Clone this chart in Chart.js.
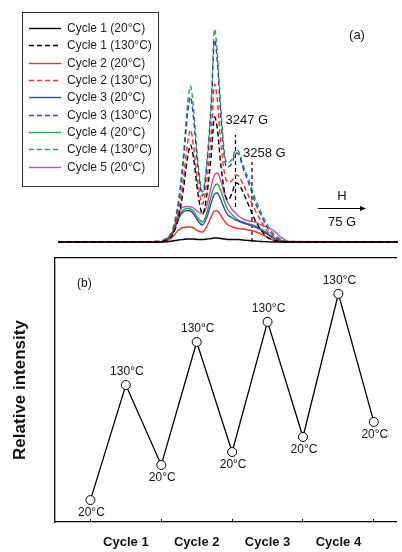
<!DOCTYPE html>
<html>
<head>
<meta charset="utf-8">
<title>ESR cycles</title>
<script src="https://cdn.jsdelivr.net/npm/chart.js@4.4.0/dist/chart.umd.min.js"></script>
<style>
  html, body { margin: 0; padding: 0; background: #fff; }
  #wrap { position: relative; width: 402px; height: 552px; }
  #specBox { position: absolute; left: 0; top: 0; width: 402px; height: 250px; }
  #trendBox { position: absolute; left: 0; top: 250px; width: 402px; height: 302px; }
</style>
</head>
<body>
<div id="wrap">
  <div id="specBox"><canvas id="specChart"></canvas></div>
  <div id="trendBox"><canvas id="trendChart"></canvas></div>
</div>
<script>
// --- panel (a): spectra, magnetic field in G, intensity in arbitrary units ---
const fieldG = [3129, 3195, 3201, 3205, 3209, 3212, 3215, 3217, 3219, 3222,
                3225, 3228, 3231, 3233, 3235, 3237, 3240, 3242, 3245, 3247,
                3249, 3252, 3256, 3260, 3264, 3268, 3272, 3277, 3283, 3355];

const cycle1At20  = [0, 0, 0.3, 1, 2, 2.5, 3, 3, 3, 2.5, 2.5, 3, 3.5, 4, 4, 3.5, 3, 2.5, 2.5, 2.5, 2.5, 2, 1.5, 1, 0.5, 0.3, 0, 0, 0, 0];
const cycle1At130 = [0, 0.3, 2, 7, 24, 50, 84, 97, 84, 48, 28, 48, 90, 125, 112, 80, 48, 42, 50, 59, 58, 50, 36, 22, 12, 5, 2, 0.5, 0, 0];
const cycle2At20  = [0, 0, 1, 5, 12, 14.5, 15, 15, 14, 11, 10, 16, 26, 31, 31, 27, 20, 17, 15, 14, 13.5, 13, 12, 10.5, 8, 5, 2, 0.5, 0, 0];
const cycle2At130 = [0, 0.5, 3, 9, 30, 60, 98, 112, 96, 58, 38, 62, 112, 158, 140, 102, 66, 60, 62, 67, 66, 58, 45, 32, 21, 11, 5, 1, 0, 0];
const cycle3At20  = [0, 0, 2, 8, 23, 30, 31.5, 31, 28, 21, 17, 25, 40, 48, 49, 43, 32, 27, 24, 22, 21, 19, 17, 15, 12, 8, 4, 1, 0, 0];
const cycle3At130 = [0, 0.5, 3.5, 11, 38, 76, 127, 145, 124, 74, 46, 78, 140, 202, 178, 130, 80, 75, 80, 89, 88, 74, 58, 40, 27, 15, 7, 2, 0, 0];
const cycle4At20  = [0, 0, 3, 10, 26, 32, 33.5, 33, 31, 24, 20, 30, 47, 56, 58, 52, 39, 32, 27, 24, 22, 20, 18, 16, 13, 9, 5, 1.5, 0, 0];
const cycle4At130 = [0, 0.5, 4, 12, 42, 82, 137, 156, 134, 79, 50, 82, 147, 213, 187, 139, 85, 79, 84, 92, 91, 77, 62, 44, 30, 18, 9, 3, 0.5, 0];
const cycle5At20  = [0, 0, 2, 10, 29, 35, 35.5, 35, 34, 30, 28, 37, 57, 67, 69, 62, 46, 39, 32, 29, 26, 23, 21, 20, 17, 15, 12, 5, 0.5, 0];

const spectrumValues = [cycle1At20, cycle1At130, cycle2At20, cycle2At130, cycle3At20,
                        cycle3At130, cycle4At20, cycle4At130, cycle5At20];
const spectrumLabels = ['Cycle 1 (20°C)', 'Cycle 1 (130°C)', 'Cycle 2 (20°C)', 'Cycle 2 (130°C)',
                        'Cycle 3 (20°C)', 'Cycle 3 (130°C)', 'Cycle 4 (20°C)', 'Cycle 4 (130°C)',
                        'Cycle 5 (20°C)'];
const spectrumColors = ['#000000', '#000000', '#ff2b2b', '#ff2b2b', '#3447b0',
                        '#3447b0', '#22a652', '#22a652', '#d845a6'];
const spectrumDashed = [false, true, false, true, false, true, false, true, false];

// field markers (dashed verticals)
const markerFields = [3247, 3258];
const markerTop = [107, 80];
const markerBottom = [35, 0];
const markerLabels = ['3247 G', '3258 G'];

// --- panel (b): relative intensity over the heating/cooling steps ---
const stepIndex = [0, 1, 2, 3, 4, 5, 6, 7, 8];
const relIntensity = [8.3, 51.9, 21.6, 68.2, 26.5, 75.8, 32.2, 86.4, 37.9];
const stepTemps = ['20°C', '130°C', '20°C', '130°C', '20°C', '130°C', '20°C', '130°C', '20°C'];
const cycleLabels = ['Cycle 1', 'Cycle 2', 'Cycle 3', 'Cycle 4'];

const FONT = '"Liberation Sans", Arial, Helvetica, sans-serif';
Chart.defaults.font.family = FONT;
Chart.defaults.color = '#111';

// spectra datasets
const specDatasets = spectrumValues.map(function(vals, i) {
    return {
        label: spectrumLabels[i],
        data: fieldG.map((g, k) => ({ x: g, y: vals[k] })),
        borderColor: spectrumColors[i],
        borderWidth: 1.4,
        borderDash: spectrumDashed[i] ? [5, 3] : [],
        pointRadius: 0,
        fill: false,
        cubicInterpolationMode: 'monotone',
        clip: false
    };
});
markerFields.forEach(function(g, i) {
    specDatasets.push({
        label: '',
        isMarker: true,
        data: [{ x: g, y: markerBottom[i] }, { x: g, y: markerTop[i] }],
        borderColor: '#000',
        borderWidth: 1.2,
        borderDash: [4, 3],
        pointRadius: 0,
        clip: false
    });
});

// legend box, marker labels, H arrow and "(a)"
const specNotes = {
    id: 'specNotes',
    afterDraw(chart) {
        const ctx = chart.ctx;
        const xs = chart.scales.x, ys = chart.scales.y;
        ctx.save();

        // legend
        ctx.strokeStyle = '#333';
        ctx.lineWidth = 1;
        ctx.strokeRect(22.5, 12.5, 136, 174);
        ctx.font = '12px ' + FONT;
        ctx.textBaseline = 'middle';
        ctx.textAlign = 'left';
        chart.data.datasets.filter(d => !d.isMarker).forEach(function(ds, i) {
            const yy = Math.round(28 + i * 17.35) + 0.5;
            ctx.beginPath();
            ctx.setLineDash(ds.borderDash);
            ctx.strokeStyle = ds.borderColor;
            ctx.lineWidth = 1.4;
            ctx.moveTo(29, yy);
            ctx.lineTo(61, yy);
            ctx.stroke();
            ctx.setLineDash([]);
            ctx.fillStyle = '#222';
            ctx.fillText(ds.label, 67, yy);
        });

        // marker labels
        ctx.font = '13px ' + FONT;
        ctx.fillStyle = '#111';
        const offsets = [[-10, -15], [-9, -9]];
        markerFields.forEach(function(g, i) {
            const px = xs.getPixelForValue(g);
            const py = ys.getPixelForValue(markerTop[i]);
            ctx.fillText(markerLabels[i], px + offsets[i][0], py + offsets[i][1]);
        });

        // field direction arrow
        const ax1 = xs.getPixelForValue(3302), ax2 = xs.getPixelForValue(3334);
        const ay = Math.round(ys.getPixelForValue(34)) + 0.5;
        ctx.strokeStyle = '#000';
        ctx.lineWidth = 1.2;
        ctx.beginPath();
        ctx.moveTo(ax1, ay);
        ctx.lineTo(ax2 - 4, ay);
        ctx.stroke();
        ctx.fillStyle = '#000';
        ctx.beginPath();
        ctx.moveTo(ax2, ay);
        ctx.lineTo(ax2 - 6, ay - 2.5);
        ctx.lineTo(ax2 - 6, ay + 2.5);
        ctx.closePath();
        ctx.fill();
        ctx.textAlign = 'center';
        ctx.fillStyle = '#111';
        ctx.fillText('H', (ax1 + ax2) / 2, ay - 12);
        ctx.fillText('75 G', (ax1 + ax2) / 2, ay + 14);

        ctx.fillText('(a)', 357, 35);
        ctx.restore();
    }
};

new Chart(document.getElementById('specChart'), {
    type: 'line',
    data: { datasets: specDatasets },
    options: {
        responsive: true,
        maintainAspectRatio: false,
        animation: false,
        layout: { padding: { left: 0, right: 0, top: 0, bottom: 8 } },
        scales: {
            x: { type: 'linear', display: false, min: 3090, max: 3358 },
            y: { display: false, min: 0, max: 242 }
        },
        plugins: { legend: { display: false }, tooltip: { enabled: false } }
    },
    plugins: [specNotes]
});

// panel (b) annotations: point temperatures and "(b)"
const trendNotes = {
    id: 'trendNotes',
    afterDraw(chart) {
        const ctx = chart.ctx;
        const area = chart.chartArea;
        ctx.save();
        ctx.font = '12px ' + FONT;
        ctx.fillStyle = '#111';
        ctx.textAlign = 'center';
        ctx.textBaseline = 'middle';
        chart.getDatasetMeta(0).data.forEach(function(pt, i) {
            const dy = i % 2 === 1 ? -13 : 13;
            ctx.fillText(stepTemps[i], pt.x + 1, pt.y + dy);
        });
        ctx.textAlign = 'left';
        ctx.fillText('(b)', area.left + 22, area.top + 26);
        ctx.restore();
    }
};

new Chart(document.getElementById('trendChart'), {
    type: 'line',
    data: {
        datasets: [{
            label: 'Relative intensity',
            data: stepIndex.map((s, i) => ({ x: s, y: relIntensity[i] })),
            borderColor: '#000',
            borderWidth: 1.3,
            pointRadius: 4.5,
            pointBackgroundColor: '#fff',
            pointBorderColor: '#000',
            pointBorderWidth: 1,
            tension: 0,
            clip: false
        }]
    },
    options: {
        responsive: true,
        maintainAspectRatio: false,
        animation: false,
        layout: { padding: { left: 0, right: 0, top: 8, bottom: 0 } },
        scales: {
            x: {
                type: 'linear',
                min: -1,
                max: 8.64,
                afterBuildTicks: function(scale) {
                    scale.ticks = stepIndex.map(v => ({ value: v }));
                },
                afterFit: function(scale) { scale.height = 30; },
                ticks: {
                    autoSkip: false,
                    maxRotation: 0,
                    padding: 16,
                    font: { size: 13, weight: 'bold' },
                    color: '#111',
                    callback: function(v) {
                        return v % 2 === 1 ? cycleLabels[(v - 1) / 2] : '';
                    }
                },
                grid: {
                    display: true,
                    drawOnChartArea: false,
                    drawTicks: true,
                    tickLength: -3,
                    tickWidth: 1,
                    tickColor: function(c) {
                        return c.tick && c.tick.value % 2 === 0 ? '#000' : 'rgba(0,0,0,0)';
                    }
                },
                border: { display: true, color: '#000', width: 1.3 }
            },
            // top frame line only
            xTop: {
                type: 'linear',
                position: 'top',
                min: -1,
                max: 8.64,
                afterFit: function(scale) { scale.height = 0; },
                ticks: { display: false },
                grid: { display: false, drawTicks: false },
                border: { display: true, color: '#000', width: 1.3 }
            },
            y: {
                min: 0,
                max: 100,
                afterFit: function(scale) { scale.width = 55; },
                ticks: { display: false },
                grid: { display: false, drawTicks: false },
                border: { display: true, color: '#000', width: 1.3 },
                title: {
                    display: true,
                    text: 'Relative intensity',
                    font: { size: 17, weight: 'bold' },
                    color: '#111',
                    padding: { top: 10, bottom: 25 }
                }
            }
        },
        plugins: { legend: { display: false }, tooltip: { enabled: false } }
    },
    plugins: [trendNotes]
});
</script>
</body>
</html>
